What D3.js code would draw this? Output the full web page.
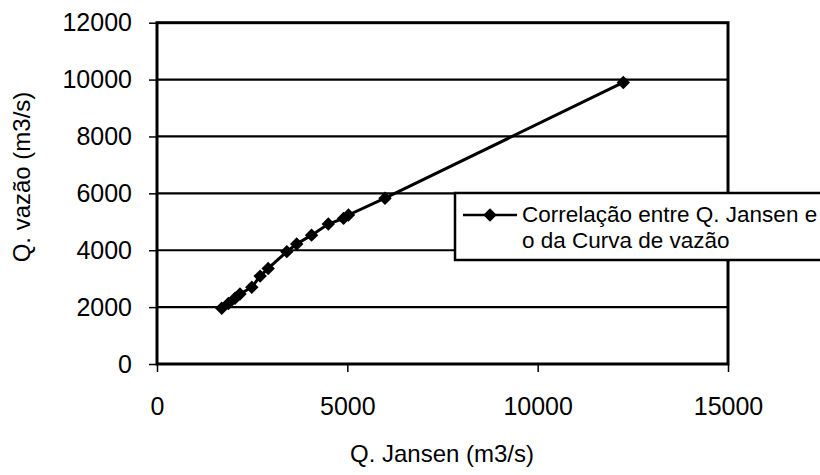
<!DOCTYPE html>
<html>
<head>
<meta charset="utf-8">
<script src="https://cdn.jsdelivr.net/npm/d3@7"></script>
<style>
  html, body { margin: 0; padding: 0; background: #fff; }
  svg { display: block; font-family: "Liberation Sans", Arial, sans-serif; }
</style>
</head>
<body>
<svg id="chart" width="820" height="475"></svg>
<script>
// Data
const qJansen = [1700, 1875, 2050, 2180, 2490, 2710, 2920, 3410, 3670, 4060, 4500, 4900, 5030, 5990, 12250];
const qVazao  = [1960, 2130, 2310, 2460, 2700, 3090, 3360, 3950, 4220, 4530, 4920, 5120, 5240, 5830, 9900];
const xTicks = [0, 5000, 10000, 15000];
const yTicks = [0, 2000, 4000, 6000, 8000, 10000, 12000];
const seriesName = ["Correlação entre Q. Jansen e", "o da Curva de vazão"];
const xTitle = "Q. Jansen (m3/s)";
const yTitle = "Q. vazão (m3/s)";

const svg = d3.select("#chart");
const pLeft = 157, pRight = 728, pTop = 22.7, pBottom = 364;

const x = d3.scaleLinear().domain([0, 15000]).range([pLeft, pRight]);
const y = d3.scaleLinear().domain([0, 12000]).range([pBottom, pTop]);

// gridlines
svg.append("g").selectAll("line").data(yTicks.filter(d => d > 0 && d < 12000)).join("line")
  .attr("x1", pLeft).attr("x2", pRight)
  .attr("y1", d => y(d)).attr("y2", d => y(d))
  .attr("stroke", "#000").attr("stroke-width", 2.2);

// y axis
const yAxis = svg.append("g").attr("transform", `translate(${pLeft},0)`)
  .call(d3.axisLeft(y).tickValues(yTicks).tickSize(8).tickPadding(17).tickFormat(d3.format("d")));
yAxis.select(".domain").remove();
yAxis.selectAll("line").attr("stroke", "#000").attr("stroke-width", 1.5);
yAxis.selectAll("text").attr("font-size", 25).attr("fill", "#000")
  .attr("font-family", "Liberation Sans, Arial, sans-serif");

// x axis
const xAxis = svg.append("g").attr("transform", `translate(0,${pBottom})`)
  .call(d3.axisBottom(x).tickValues(xTicks).tickSize(8).tickPadding(25).tickFormat(d3.format("d")));
xAxis.select(".domain").remove();
xAxis.selectAll("line").attr("stroke", "#000").attr("stroke-width", 1.5);
xAxis.selectAll("text").attr("font-size", 25).attr("fill", "#000")
  .attr("font-family", "Liberation Sans, Arial, sans-serif");

// plot border
svg.append("rect").attr("x", pLeft).attr("y", pTop)
  .attr("width", pRight - pLeft).attr("height", pBottom - pTop)
  .attr("fill", "none").attr("stroke", "#000").attr("stroke-width", 3);

// series line
const pts = qJansen.map((d, i) => [d, qVazao[i]]);
svg.append("path").datum(pts)
  .attr("d", d3.line().x(d => x(d[0])).y(d => y(d[1])))
  .attr("fill", "none").attr("stroke", "#000").attr("stroke-width", 3);

const diamondPath = d3.symbol().type(d3.symbolSquare).size(90)();
svg.append("g").selectAll("path").data(pts).join("path")
  .attr("d", diamondPath)
  .attr("transform", d => `translate(${x(d[0])},${y(d[1])}) rotate(45)`)
  .attr("fill", "#000");

// axis titles
svg.append("text").attr("x", 442).attr("y", 462).attr("text-anchor", "middle")
  .attr("font-size", 24).attr("fill", "#000").text(xTitle);
svg.append("text").attr("transform", "translate(30,177) rotate(-90)")
  .attr("text-anchor", "middle").attr("font-size", 24).attr("fill", "#000").text(yTitle);

// legend
const lg = svg.append("g");
lg.append("rect").attr("x", 455).attr("y", 193).attr("width", 380).attr("height", 67)
  .attr("fill", "#fff").attr("stroke", "#000").attr("stroke-width", 2.5);
lg.append("line").attr("x1", 463).attr("x2", 517).attr("y1", 215).attr("y2", 215)
  .attr("stroke", "#000").attr("stroke-width", 2.5);
lg.append("path").attr("d", diamondPath)
  .attr("transform", "translate(490,215) rotate(45)").attr("fill", "#000");
lg.selectAll("text.leg").data(seriesName).join("text").attr("class", "leg")
  .attr("x", 522)
  .attr("y", (d, i) => 222 + i * 26)
  .attr("font-size", 22.5).attr("fill", "#000").text(d => d);
</script>
</body>
</html>
